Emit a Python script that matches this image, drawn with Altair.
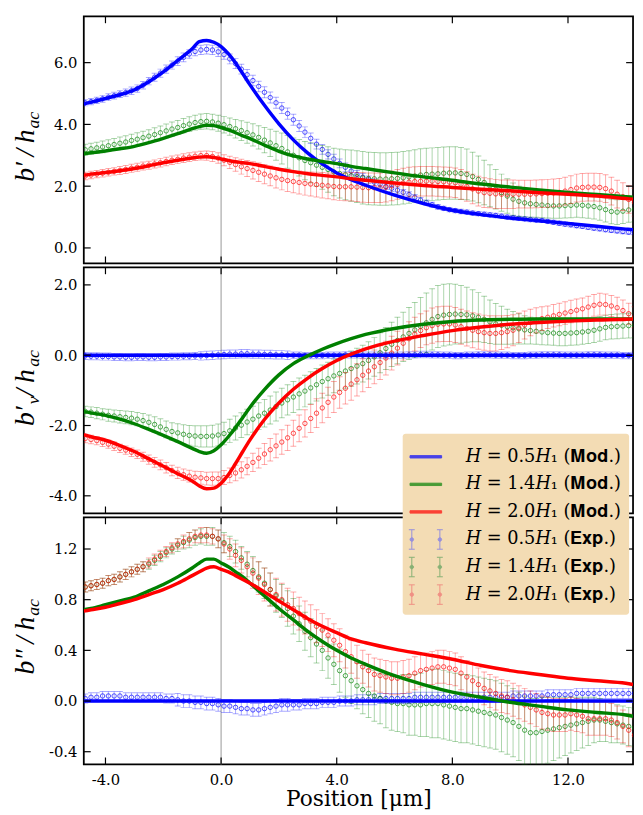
import altair as alt
import pandas as pd

# ---------------- data ----------------
X_EXP = [round(-4.7 + 0.2 * i, 1) for i in range(96)]
X_MOD = [-4.75, -4.5, -4.0, -3.5, -3.0, -2.5, -2.0, -1.5, -1.0, -0.75, -0.5, -0.25, 0.0,
         0.25, 0.5, 0.75, 1.0, 1.5, 2.0, 2.5, 3.0, 3.5, 4.0, 4.5, 5.0, 6.0, 7.0, 8.0,
         9.0, 10.0, 11.0, 12.0, 13.0, 14.0, 14.25]

# panel 1 : b'/h_ac
MOD1_B = [4.67, 4.72, 4.84, 4.96, 5.12, 5.38, 5.70, 6.07, 6.45, 6.68, 6.72, 6.66, 6.52,
          6.29, 5.99, 5.64, 5.28, 4.62, 4.02, 3.50, 3.07, 2.72, 2.43, 2.21, 2.03, 1.71,
          1.44, 1.22, 1.08, 0.97, 0.88, 0.79, 0.70, 0.61, 0.59]
MOD1_G = [3.05, 3.08, 3.14, 3.21, 3.29, 3.41, 3.55, 3.70, 3.86, 3.93, 3.97, 3.96, 3.90,
          3.82, 3.73, 3.63, 3.54, 3.33, 3.13, 2.98, 2.88, 2.80, 2.73, 2.64, 2.57, 2.43,
          2.30, 2.19, 2.07, 1.97, 1.88, 1.80, 1.73, 1.66, 1.64]
MOD1_R = [2.35, 2.39, 2.44, 2.50, 2.57, 2.66, 2.76, 2.84, 2.91, 2.94, 2.95, 2.93, 2.88,
          2.83, 2.79, 2.76, 2.73, 2.64, 2.55, 2.47, 2.40, 2.35, 2.30, 2.24, 2.19, 2.10,
          2.02, 1.96, 1.90, 1.85, 1.79, 1.74, 1.68, 1.60, 1.58]
EXP1_B = [4.70, 4.74, 4.78, 4.83, 4.88, 4.93, 4.98, 5.03, 5.09, 5.16,
          5.27, 5.40, 5.53, 5.66, 5.79, 5.92, 6.05, 6.17, 6.28, 6.36,
          6.41, 6.43, 6.41, 6.35, 6.26, 6.12, 5.97, 5.79, 5.61, 5.42,
          5.23, 5.04, 4.87, 4.70, 4.53, 4.35, 4.15, 3.95, 3.75, 3.55,
          3.36, 3.19, 3.03, 2.88, 2.74, 2.61, 2.49, 2.38, 2.29, 2.21,
          2.13, 2.06, 1.99, 1.93, 1.87, 1.80, 1.73, 1.64, 1.55, 1.47,
          1.40, 1.33, 1.28, 1.24, 1.21, 1.18, 1.16, 1.13, 1.11, 1.09,
          1.07, 1.05, 1.03, 1.00, 0.98, 0.96, 0.94, 0.92, 0.90, 0.89,
          0.86, 0.83, 0.80, 0.77, 0.75, 0.72, 0.70, 0.67, 0.64, 0.62,
          0.59, 0.57, 0.55, 0.53, 0.51, 0.50]
ERR1_B = [0.10, 0.10, 0.10, 0.11, 0.11, 0.11, 0.11, 0.12, 0.12, 0.12,
          0.12, 0.12, 0.13, 0.13, 0.13, 0.13, 0.14, 0.14, 0.14, 0.14,
          0.15, 0.15, 0.15, 0.15, 0.15, 0.16, 0.16, 0.16, 0.17, 0.17,
          0.17, 0.18, 0.18, 0.18, 0.18, 0.18, 0.18, 0.18, 0.17, 0.17,
          0.16, 0.16, 0.15, 0.15, 0.14, 0.14, 0.13, 0.13, 0.12, 0.12,
          0.11, 0.11, 0.10, 0.10, 0.10, 0.09, 0.09, 0.09, 0.08, 0.08,
          0.08, 0.08, 0.07, 0.07, 0.07, 0.07, 0.07, 0.07, 0.07, 0.07,
          0.07, 0.07, 0.07, 0.07, 0.07, 0.07, 0.07, 0.07, 0.07, 0.07,
          0.07, 0.07, 0.07, 0.07, 0.07, 0.07, 0.07, 0.07, 0.07, 0.07,
          0.07, 0.07, 0.07, 0.07, 0.07, 0.07]
EXP1_G = [3.18, 3.21, 3.24, 3.27, 3.31, 3.35, 3.39, 3.43, 3.48, 3.52,
          3.57, 3.62, 3.67, 3.73, 3.79, 3.85, 3.90, 3.96, 4.01, 4.06,
          4.09, 4.10, 4.08, 4.04, 3.99, 3.93, 3.86, 3.80, 3.73, 3.66,
          3.58, 3.49, 3.40, 3.31, 3.22, 3.11, 3.00, 2.92, 2.83, 2.76,
          2.68, 2.61, 2.54, 2.46, 2.41, 2.37, 2.34, 2.31, 2.27, 2.25,
          2.24, 2.23, 2.23, 2.24, 2.25, 2.27, 2.30, 2.33, 2.36, 2.38,
          2.39, 2.40, 2.42, 2.43, 2.43, 2.41, 2.38, 2.31, 2.22, 2.12,
          2.01, 1.90, 1.79, 1.68, 1.58, 1.51, 1.46, 1.43, 1.41, 1.39,
          1.37, 1.36, 1.36, 1.37, 1.38, 1.39, 1.38, 1.36, 1.34, 1.30,
          1.24, 1.18, 1.16, 1.19, 1.23, 1.26]
ERR1_G = [0.18, 0.18, 0.18, 0.19, 0.19, 0.19, 0.20, 0.20, 0.20, 0.21,
          0.21, 0.21, 0.22, 0.22, 0.22, 0.23, 0.23, 0.23, 0.24, 0.24,
          0.25, 0.25, 0.25, 0.26, 0.27, 0.28, 0.30, 0.32, 0.34, 0.36,
          0.38, 0.41, 0.44, 0.47, 0.50, 0.53, 0.56, 0.59, 0.62, 0.65,
          0.68, 0.71, 0.74, 0.77, 0.79, 0.81, 0.83, 0.84, 0.85, 0.85,
          0.85, 0.85, 0.85, 0.85, 0.85, 0.85, 0.85, 0.85, 0.85, 0.85,
          0.85, 0.85, 0.85, 0.85, 0.85, 0.84, 0.82, 0.79, 0.76, 0.72,
          0.68, 0.64, 0.60, 0.56, 0.52, 0.49, 0.46, 0.44, 0.42, 0.41,
          0.40, 0.40, 0.40, 0.40, 0.40, 0.40, 0.40, 0.40, 0.40, 0.40,
          0.40, 0.40, 0.40, 0.40, 0.40, 0.40]
EXP1_R = [2.33, 2.36, 2.39, 2.42, 2.45, 2.48, 2.51, 2.54, 2.58, 2.61,
          2.65, 2.68, 2.72, 2.76, 2.80, 2.84, 2.87, 2.91, 2.94, 2.97,
          2.99, 2.99, 2.96, 2.91, 2.84, 2.77, 2.70, 2.63, 2.57, 2.51,
          2.45, 2.39, 2.33, 2.27, 2.22, 2.18, 2.15, 2.12, 2.09, 2.07,
          2.05, 2.03, 2.01, 1.99, 1.98, 1.98, 1.98, 1.97, 1.96, 1.95,
          1.95, 1.95, 1.97, 2.01, 2.06, 2.10, 2.13, 2.15, 2.16, 2.16,
          2.16, 2.15, 2.14, 2.13, 2.11, 2.06, 1.99, 1.91, 1.84, 1.79,
          1.77, 1.75, 1.74, 1.74, 1.74, 1.74, 1.74, 1.74, 1.75, 1.76,
          1.77, 1.78, 1.80, 1.84, 1.89, 1.94, 1.96, 1.97, 1.97, 1.96,
          1.92, 1.84, 1.74, 1.66, 1.57, 1.48]
ERR1_R = [0.12, 0.12, 0.12, 0.12, 0.12, 0.12, 0.13, 0.13, 0.13, 0.13,
          0.13, 0.13, 0.13, 0.14, 0.14, 0.14, 0.14, 0.14, 0.14, 0.14,
          0.14, 0.15, 0.16, 0.17, 0.18, 0.20, 0.22, 0.24, 0.26, 0.28,
          0.30, 0.31, 0.32, 0.33, 0.34, 0.35, 0.36, 0.37, 0.38, 0.39,
          0.40, 0.41, 0.42, 0.43, 0.44, 0.45, 0.46, 0.47, 0.48, 0.48,
          0.48, 0.48, 0.48, 0.48, 0.48, 0.48, 0.48, 0.48, 0.48, 0.48,
          0.48, 0.48, 0.48, 0.48, 0.48, 0.48, 0.48, 0.48, 0.48, 0.48,
          0.47, 0.47, 0.46, 0.46, 0.46, 0.45, 0.45, 0.45, 0.45, 0.45,
          0.45, 0.45, 0.45, 0.45, 0.45, 0.45, 0.45, 0.45, 0.45, 0.45,
          0.45, 0.45, 0.45, 0.45, 0.45, 0.45]

# panel 2 : b'_v/h_ac
MOD2_B = [0.0, 0.0, 0.0, 0.0, 0.0, 0.0, 0.0, 0.0, 0.0, 0.0, 0.0, 0.0, 0.0, 0.0, 0.0,
          0.0, 0.0, 0.0, 0.0, 0.0, 0.0, 0.0, 0.0, 0.0, 0.0, 0.0, 0.0, 0.0, 0.0, 0.0,
          0.0, 0.0, 0.0, 0.0, 0.0]
MOD2_G = [-1.60, -1.64, -1.71, -1.82, -1.95, -2.11, -2.28, -2.46, -2.65, -2.74, -2.79,
          -2.72, -2.55, -2.32, -2.06, -1.77, -1.48, -0.98, -0.56, -0.24, -0.02, 0.17,
          0.33, 0.47, 0.59, 0.76, 0.88, 0.96, 1.00, 1.02, 1.03, 1.03, 1.03, 1.03, 1.03]
MOD2_R = [-2.26, -2.32, -2.42, -2.57, -2.74, -2.95, -3.16, -3.37, -3.58, -3.72, -3.80,
          -3.78, -3.64, -3.40, -3.08, -2.74, -2.41, -1.83, -1.36, -0.97, -0.65, -0.38,
          -0.15, 0.03, 0.18, 0.40, 0.56, 0.70, 0.80, 0.88, 0.93, 0.97, 1.00, 1.02, 1.03]
EXP2_B = [-0.02, -0.03, -0.03, -0.04, -0.04, -0.05, -0.05, -0.06, -0.06, -0.05,
          -0.05, -0.06, -0.06, -0.05, -0.05, -0.04, -0.04, -0.03, -0.03, -0.02,
          -0.02, -0.01, 0.00, 0.01, 0.02, 0.03, 0.03, 0.04, 0.04, 0.03,
          0.03, 0.02, 0.02, 0.01, 0.01, 0.00, 0.00, 0.00, -0.01, -0.01,
          -0.01, -0.01, 0.00, 0.00, 0.00, 0.01, 0.01, 0.01, 0.00, 0.00,
          0.00, 0.00, -0.01, -0.01, 0.00, 0.00, 0.01, 0.01, 0.02, 0.02,
          0.01, 0.01, 0.00, 0.00, -0.01, -0.01, 0.00, 0.00, 0.01, 0.01,
          0.01, 0.00, 0.00, 0.00, -0.01, -0.01, -0.01, 0.00, 0.00, 0.01,
          0.01, 0.01, 0.01, 0.00, 0.00, 0.00, 0.00, 0.01, 0.01, 0.01,
          0.00, 0.00, 0.00, -0.01, -0.01, 0.00]
ERR2_B = [0.10, 0.10, 0.10, 0.10, 0.10, 0.10, 0.10, 0.10, 0.10, 0.10,
          0.10, 0.10, 0.10, 0.10, 0.10, 0.10, 0.10, 0.10, 0.10, 0.10,
          0.12, 0.12, 0.12, 0.12, 0.12, 0.12, 0.12, 0.12, 0.12, 0.12,
          0.12, 0.12, 0.12, 0.12, 0.12, 0.12, 0.09, 0.09, 0.09, 0.09,
          0.09, 0.09, 0.09, 0.09, 0.09, 0.09, 0.09, 0.09, 0.09, 0.09,
          0.09, 0.09, 0.09, 0.09, 0.09, 0.09, 0.09, 0.09, 0.09, 0.09,
          0.09, 0.09, 0.09, 0.09, 0.09, 0.09, 0.09, 0.09, 0.09, 0.09,
          0.09, 0.09, 0.09, 0.09, 0.09, 0.09, 0.09, 0.09, 0.09, 0.09,
          0.09, 0.09, 0.09, 0.09, 0.09, 0.09, 0.09, 0.09, 0.09, 0.09,
          0.09, 0.09, 0.09, 0.09, 0.09, 0.09]
EXP2_G = [-1.60, -1.62, -1.65, -1.68, -1.71, -1.73, -1.75, -1.77, -1.79, -1.82,
          -1.86, -1.91, -1.97, -2.04, -2.11, -2.17, -2.21, -2.25, -2.28, -2.30,
          -2.31, -2.31, -2.30, -2.27, -2.23, -2.15, -2.07, -1.99, -1.90, -1.82,
          -1.73, -1.65, -1.56, -1.46, -1.36, -1.27, -1.19, -1.10, -1.02, -0.93,
          -0.84, -0.75, -0.67, -0.59, -0.52, -0.45, -0.38, -0.31, -0.24, -0.15,
          -0.05, 0.07, 0.19, 0.31, 0.42, 0.52, 0.62, 0.72, 0.82, 0.92,
          1.02, 1.10, 1.14, 1.16, 1.17, 1.16, 1.15, 1.12, 1.08, 1.02,
          0.95, 0.89, 0.85, 0.81, 0.78, 0.75, 0.72, 0.70, 0.68, 0.66,
          0.64, 0.63, 0.62, 0.62, 0.63, 0.64, 0.66, 0.68, 0.71, 0.75,
          0.79, 0.81, 0.82, 0.83, 0.84, 0.85]
ERR2_G = [0.15, 0.15, 0.16, 0.16, 0.17, 0.17, 0.18, 0.18, 0.19, 0.19,
          0.20, 0.21, 0.22, 0.23, 0.24, 0.25, 0.26, 0.27, 0.28, 0.29,
          0.30, 0.30, 0.31, 0.31, 0.32, 0.33, 0.34, 0.35, 0.36, 0.37,
          0.38, 0.39, 0.40, 0.41, 0.42, 0.43, 0.44, 0.45, 0.45, 0.46,
          0.46, 0.47, 0.47, 0.48, 0.48, 0.49, 0.50, 0.51, 0.52, 0.53,
          0.55, 0.57, 0.60, 0.63, 0.66, 0.70, 0.74, 0.78, 0.82, 0.85,
          0.87, 0.88, 0.88, 0.87, 0.85, 0.82, 0.78, 0.74, 0.70, 0.66,
          0.62, 0.58, 0.54, 0.50, 0.46, 0.43, 0.40, 0.38, 0.37, 0.36,
          0.35, 0.35, 0.35, 0.35, 0.35, 0.35, 0.35, 0.35, 0.35, 0.35,
          0.35, 0.35, 0.35, 0.35, 0.35, 0.35]
EXP2_R = [-2.37, -2.40, -2.43, -2.48, -2.53, -2.59, -2.65, -2.70, -2.76, -2.82,
          -2.89, -2.97, -3.05, -3.12, -3.20, -3.28, -3.35, -3.40, -3.44, -3.47,
          -3.49, -3.51, -3.51, -3.51, -3.48, -3.42, -3.35, -3.26, -3.16, -3.05,
          -2.93, -2.81, -2.69, -2.58, -2.47, -2.35, -2.22, -2.08, -1.94, -1.80,
          -1.65, -1.50, -1.34, -1.19, -1.06, -0.94, -0.82, -0.70, -0.57, -0.45,
          -0.33, -0.21, -0.08, 0.06, 0.20, 0.34, 0.47, 0.60, 0.70, 0.78,
          0.84, 0.88, 0.89, 0.89, 0.86, 0.81, 0.76, 0.71, 0.67, 0.64,
          0.62, 0.62, 0.64, 0.67, 0.71, 0.78, 0.86, 0.93, 0.99, 1.04,
          1.08, 1.12, 1.16, 1.20, 1.24, 1.28, 1.32, 1.37, 1.42, 1.45,
          1.44, 1.40, 1.35, 1.27, 1.18, 1.08]
ERR2_R = [0.12, 0.12, 0.12, 0.12, 0.12, 0.12, 0.12, 0.12, 0.12, 0.12,
          0.13, 0.13, 0.14, 0.14, 0.15, 0.15, 0.16, 0.16, 0.17, 0.17,
          0.18, 0.18, 0.19, 0.19, 0.20, 0.21, 0.22, 0.23, 0.24, 0.26,
          0.28, 0.30, 0.32, 0.34, 0.35, 0.36, 0.37, 0.38, 0.39, 0.40,
          0.41, 0.42, 0.43, 0.44, 0.45, 0.45, 0.46, 0.46, 0.47, 0.47,
          0.48, 0.48, 0.48, 0.48, 0.48, 0.48, 0.48, 0.48, 0.48, 0.48,
          0.50, 0.50, 0.50, 0.50, 0.50, 0.50, 0.50, 0.50, 0.50, 0.50,
          0.50, 0.50, 0.48, 0.46, 0.44, 0.42, 0.40, 0.38, 0.36, 0.34,
          0.32, 0.32, 0.32, 0.32, 0.32, 0.32, 0.31, 0.31, 0.31, 0.31,
          0.30, 0.30, 0.30, 0.30, 0.30, 0.30]

# panel 3 : b''/h_ac
MOD3_B = [0.0, 0.0, 0.0, 0.0, 0.0, 0.0, 0.0, 0.0, 0.0, 0.0, 0.0, 0.0, 0.0, 0.0, 0.0,
          0.0, 0.0, 0.0, 0.0, 0.0, 0.0, 0.0, 0.0, 0.0, 0.0, 0.0, 0.0, 0.0, 0.0, 0.0,
          0.0, 0.0, 0.0, 0.0, 0.0]
MOD3_G = [0.72, 0.73, 0.76, 0.79, 0.82, 0.87, 0.92, 0.98, 1.05, 1.09, 1.12, 1.12, 1.09,
          1.06, 1.02, 0.98, 0.93, 0.83, 0.73, 0.64, 0.55, 0.47, 0.40, 0.34, 0.29, 0.20,
          0.13, 0.07, 0.03, -0.01, -0.04, -0.07, -0.09, -0.11, -0.12]
MOD3_R = [0.71, 0.72, 0.74, 0.77, 0.80, 0.84, 0.88, 0.93, 0.99, 1.02, 1.05, 1.06, 1.04,
          1.02, 0.99, 0.96, 0.93, 0.86, 0.79, 0.72, 0.65, 0.59, 0.54, 0.49, 0.46, 0.41,
          0.37, 0.33, 0.28, 0.24, 0.21, 0.18, 0.16, 0.14, 0.13]
EXP3_B = [0.02, 0.03, 0.03, 0.04, 0.04, 0.04, 0.04, 0.03, 0.03, 0.03,
          0.03, 0.03, 0.03, 0.03, 0.02, 0.02, 0.01, 0.00, 0.00, -0.01,
          -0.01, -0.02, -0.02, -0.03, -0.04, -0.04, -0.05, -0.06, -0.06, -0.07,
          -0.07, -0.06, -0.05, -0.04, -0.03, -0.03, -0.03, -0.03, -0.02, -0.02,
          -0.02, -0.01, -0.01, -0.01, 0.00, 0.00, 0.00, 0.01, 0.01, 0.01,
          0.01, 0.02, 0.02, 0.02, 0.02, 0.02, 0.02, 0.03, 0.03, 0.03,
          0.03, 0.03, 0.03, 0.03, 0.03, 0.03, 0.03, 0.03, 0.03, 0.03,
          0.03, 0.03, 0.03, 0.03, 0.04, 0.04, 0.04, 0.04, 0.04, 0.04,
          0.05, 0.05, 0.05, 0.05, 0.05, 0.06, 0.06, 0.06, 0.06, 0.06,
          0.06, 0.06, 0.06, 0.06, 0.06, 0.06]
ERR3_B = [0.035, 0.035, 0.035, 0.035, 0.035, 0.035, 0.035, 0.035, 0.035, 0.035,
          0.035, 0.035, 0.035, 0.035, 0.035, 0.035, 0.05, 0.05, 0.05, 0.05,
          0.05, 0.05, 0.05, 0.05, 0.05, 0.05, 0.05, 0.05, 0.05, 0.05,
          0.05, 0.05, 0.05, 0.05, 0.05, 0.05, 0.04, 0.04, 0.04, 0.04,
          0.04, 0.04, 0.04, 0.04, 0.04, 0.04, 0.04, 0.04, 0.04, 0.04,
          0.04, 0.04, 0.04, 0.04, 0.04, 0.04, 0.04, 0.04, 0.04, 0.04,
          0.04, 0.04, 0.04, 0.04, 0.04, 0.04, 0.04, 0.04, 0.04, 0.04,
          0.04, 0.04, 0.04, 0.04, 0.04, 0.04, 0.04, 0.04, 0.04, 0.04,
          0.04, 0.04, 0.04, 0.04, 0.04, 0.04, 0.04, 0.04, 0.04, 0.04,
          0.04, 0.04, 0.04, 0.04, 0.04, 0.04]
EXP3_G = [0.90, 0.91, 0.92, 0.93, 0.95, 0.96, 0.98, 1.00, 1.02, 1.04,
          1.06, 1.08, 1.11, 1.14, 1.17, 1.20, 1.23, 1.25, 1.27, 1.29,
          1.30, 1.30, 1.30, 1.28, 1.25, 1.22, 1.18, 1.13, 1.08, 1.03,
          0.98, 0.93, 0.88, 0.83, 0.79, 0.73, 0.67, 0.61, 0.55, 0.50,
          0.45, 0.40, 0.34, 0.29, 0.24, 0.20, 0.16, 0.12, 0.09, 0.06,
          0.04, 0.02, 0.00, -0.01, -0.02, -0.02, -0.03, -0.03, -0.03, -0.02,
          -0.02, -0.02, -0.03, -0.04, -0.05, -0.06, -0.06, -0.07, -0.08, -0.09,
          -0.10, -0.11, -0.13, -0.15, -0.17, -0.20, -0.23, -0.25, -0.25, -0.24,
          -0.23, -0.22, -0.21, -0.20, -0.19, -0.18, -0.17, -0.16, -0.15, -0.15,
          -0.16, -0.17, -0.18, -0.19, -0.20, -0.21]
ERR3_G = [0.04, 0.04, 0.04, 0.04, 0.04, 0.04, 0.04, 0.04, 0.04, 0.04,
          0.04, 0.04, 0.04, 0.04, 0.04, 0.04, 0.05, 0.05, 0.06, 0.06,
          0.06, 0.07, 0.07, 0.07, 0.08, 0.08, 0.09, 0.09, 0.10, 0.11,
          0.12, 0.12, 0.13, 0.13, 0.13, 0.14, 0.14, 0.14, 0.15, 0.15,
          0.15, 0.16, 0.16, 0.16, 0.17, 0.17, 0.18, 0.18, 0.19, 0.19,
          0.20, 0.20, 0.21, 0.22, 0.22, 0.23, 0.24, 0.24, 0.25, 0.26,
          0.27, 0.27, 0.27, 0.27, 0.27, 0.27, 0.27, 0.27, 0.27, 0.27,
          0.27, 0.27, 0.27, 0.27, 0.27, 0.27, 0.27, 0.27, 0.27, 0.27,
          0.26, 0.25, 0.24, 0.23, 0.22, 0.21, 0.20, 0.19, 0.18, 0.17,
          0.16, 0.16, 0.15, 0.15, 0.15, 0.15]
EXP3_R = [0.90, 0.91, 0.92, 0.93, 0.95, 0.96, 0.98, 1.00, 1.02, 1.04,
          1.06, 1.09, 1.12, 1.15, 1.18, 1.21, 1.24, 1.26, 1.28, 1.30,
          1.31, 1.31, 1.30, 1.28, 1.24, 1.20, 1.15, 1.11, 1.06, 1.01,
          0.97, 0.92, 0.88, 0.84, 0.80, 0.76, 0.73, 0.69, 0.66, 0.63,
          0.59, 0.56, 0.52, 0.48, 0.44, 0.39, 0.35, 0.31, 0.27, 0.24,
          0.21, 0.20, 0.19, 0.18, 0.18, 0.19, 0.20, 0.22, 0.24, 0.25,
          0.26, 0.27, 0.27, 0.26, 0.25, 0.22, 0.19, 0.16, 0.13, 0.10,
          0.08, 0.06, 0.04, 0.03, 0.01, -0.01, -0.03, -0.05, -0.07, -0.09,
          -0.10, -0.11, -0.11, -0.11, -0.10, -0.11, -0.12, -0.14, -0.14, -0.14,
          -0.14, -0.15, -0.17, -0.20, -0.23, -0.27]
ERR3_R = [0.04, 0.04, 0.04, 0.04, 0.04, 0.04, 0.04, 0.04, 0.04, 0.04,
          0.04, 0.04, 0.04, 0.04, 0.04, 0.04, 0.04, 0.05, 0.05, 0.05,
          0.06, 0.06, 0.06, 0.07, 0.07, 0.08, 0.09, 0.10, 0.11, 0.12,
          0.13, 0.13, 0.13, 0.13, 0.13, 0.13, 0.13, 0.13, 0.13, 0.13,
          0.13, 0.13, 0.13, 0.13, 0.13, 0.13, 0.13, 0.13, 0.13, 0.13,
          0.13, 0.13, 0.13, 0.13, 0.13, 0.13, 0.13, 0.13, 0.13, 0.13,
          0.13, 0.13, 0.13, 0.13, 0.13, 0.13, 0.13, 0.13, 0.13, 0.13,
          0.13, 0.13, 0.13, 0.13, 0.13, 0.13, 0.13, 0.13, 0.13, 0.13,
          0.13, 0.13, 0.13, 0.13, 0.13, 0.13, 0.13, 0.13, 0.13, 0.13,
          0.13, 0.13, 0.13, 0.13, 0.13, 0.13]

X_TICKS = [-4, 0, 4, 8, 12]
Y_TICKS = [[0, 2, 4, 6], [-4, -2, 0, 2], [-0.4, 0.0, 0.4, 0.8, 1.2]]
Y_DOMAINS = [[-0.5, 7.5], [-4.5, 2.5], [-0.5, 1.45]]

LEG_LABELS = ["𝐻 = 0.5𝐻₁ (𝐌𝐨𝐝.)", "𝐻 = 1.4𝐻₁ (𝐌𝐨𝐝.)", "𝐻 = 2.0𝐻₁ (𝐌𝐨𝐝.)",
              "𝐻 = 0.5𝐻₁ (𝐄𝐱𝐩.)", "𝐻 = 1.4𝐻₁ (𝐄𝐱𝐩.)", "𝐻 = 2.0𝐻₁ (𝐄𝐱𝐩.)"]

# ---------------- style ----------------
COL = {"b": "#0000ff", "g": "#008000", "r": "#ff0000"}
LEG_COLORS = ["#0000ff", "#008000", "#ff0000", "#7070ee", "#5a9f5a", "#f07070"]
LINE_PATH = "M0,-0.7M0,0.7M-1.07,-0.08H1.07V0.08H-1.07Z"
ERR_PATH = ("M-1.15,-0.66H-0.75M-0.95,-0.66V0.66M-1.15,0.66H-0.75"
            "M0.75,-0.66H1.15M0.95,-0.66V0.66M0.75,0.66H1.15"
            "M-0.83,0A0.12,0.12,0,1,1,-1.07,0A0.12,0.12,0,1,1,-0.83,0"
            "M1.07,0A0.12,0.12,0,1,1,0.83,0A0.12,0.12,0,1,1,1.07,0")
LEG_SHAPES = [LINE_PATH, LINE_PATH, LINE_PATH, ERR_PATH, ERR_PATH, ERR_PATH]

XDOM = [-4.75, 14.25]
W = 558
TICK = 7
LAB = "(datum.value < 0 ? '-' : '') + format(abs(datum.value), '.1f')"
TS = "\u2009"


def xenc(axis=None):
    return alt.X("x:Q", scale=alt.Scale(domain=XDOM, nice=False, zero=False), axis=axis)


def yenc(field, dom, axis=None):
    return alt.Y(f"{field}:Q", scale=alt.Scale(domain=dom, nice=False, zero=False), axis=axis)


def panel(idx, exp, errs, mods, height, bottom, title_parts, legend=False):
    ydom = Y_DOMAINS[idx]
    layers = [alt.Chart(pd.DataFrame({"x": [0.0]})).mark_rule(
        color="#a8a8a8", strokeWidth=1.2).encode(x=xenc())]
    for k in ["b", "g", "r"]:
        df = pd.DataFrame({"x": X_EXP, "y": exp[k], "e": errs[k]})
        base = alt.Chart(df).transform_calculate(lo="datum.y - datum.e", hi="datum.y + datum.e")
        layers.append(base.mark_rule(color=COL[k], opacity=0.33, strokeWidth=1, clip=True).encode(
            x=xenc(), y=yenc("lo", ydom), y2="hi:Q"))
        layers.append(base.transform_fold(["lo", "hi"], as_=["k", "v"]).mark_tick(
            color=COL[k], opacity=0.33, orient="horizontal", size=6, thickness=1, clip=True).encode(
            x=xenc(), y=yenc("v", ydom)))
        layers.append(alt.Chart(df).mark_point(shape="circle", size=20, filled=False, color=COL[k],
                                               opacity=0.7, strokeWidth=1, clip=True).encode(
            x=xenc(), y=yenc("y", ydom)))
    for k in ["b", "g", "r"]:
        dfm = pd.DataFrame({"x": X_MOD, "y": mods[k]})
        layers.append(alt.Chart(dfm).mark_line(color=COL[k], strokeWidth=3.5, interpolate="monotone",
                                               clip=True).encode(x=xenc(), y=yenc("y", ydom)))
    # inward ticks on all four sides
    tx = pd.DataFrame({"x": X_TICKS})
    ty = pd.DataFrame({"y": Y_TICKS[idx]})
    layers.append(alt.Chart(tx).mark_rule(color="black", strokeWidth=1.2).encode(
        x=xenc(), y=alt.value(0), y2=alt.value(TICK)))
    layers.append(alt.Chart(tx).mark_rule(color="black", strokeWidth=1.2).encode(
        x=xenc(), y=alt.value(height), y2=alt.value(height - TICK)))
    layers.append(alt.Chart(ty).mark_rule(color="black", strokeWidth=1.2).encode(
        y=yenc("y", ydom), x=alt.value(0), x2=alt.value(TICK)))
    layers.append(alt.Chart(ty).mark_rule(color="black", strokeWidth=1.2).encode(
        y=yenc("y", ydom), x=alt.value(W), x2=alt.value(W - TICK)))
    for txt, xx, yy, align, size in title_parts:
        layers.append(alt.Chart(pd.DataFrame({"t": [txt]})).mark_text(
            angle=270, align=align, baseline="alphabetic", font="Liberation Serif",
            fontStyle="italic", fontSize=size, color="black").encode(
            x=alt.value(xx), y=alt.value(yy), text="t:N"))
    if legend:
        leg = alt.Legend(title=None, orient="none", legendX=324, legendY=424, fillColor="#f3dcb4",
                         padding=8, labelFont="DejaVu Serif", labelFontSize=18, labelColor="black",
                         labelLimit=500, labelOffset=25, symbolSize=900, symbolStrokeWidth=1,
                         rowPadding=0, cornerRadius=3)
        ldf = pd.DataFrame({"label": LEG_LABELS, "x": [-100.0] * 6, "y": [0.0] * 6})
        sc = alt.Scale(domain=LEG_LABELS, range=LEG_COLORS)
        layers.append(alt.Chart(ldf).mark_point(filled=True, clip=True).encode(
            x=xenc(), y=yenc("y", ydom),
            color=alt.Color("label:N", scale=sc, legend=leg, sort=LEG_LABELS),
            stroke=alt.Stroke("label:N", scale=sc, legend=leg, sort=LEG_LABELS),
            shape=alt.Shape("label:N", scale=alt.Scale(domain=LEG_LABELS, range=LEG_SHAPES),
                            legend=leg, sort=LEG_LABELS)))
    ad = pd.DataFrame({"x": [0.0], "y": [0.0]})
    ax_x = None
    if bottom:
        ax_x = alt.Axis(values=X_TICKS, labelExpr=LAB, ticks=False, domain=False, grid=False,
                        labelPadding=8, title="Position [μm]", titlePadding=2)
    ax_y = alt.Axis(values=Y_TICKS[idx], labelExpr=LAB, ticks=False, domain=False, grid=False,
                    labelPadding=7, title=None)
    layers.append(alt.Chart(ad).mark_point(opacity=0).encode(x=xenc(ax_x), y=yenc("y", ydom, ax_y)))
    return alt.layer(*layers).resolve_axis(x="independent", y="independent").properties(
        width=W, height=height)


p1 = panel(0, {"b": EXP1_B, "g": EXP1_G, "r": EXP1_R}, {"b": ERR1_B, "g": ERR1_G, "r": ERR1_R},
           {"b": MOD1_B, "g": MOD1_G, "r": MOD1_R}, 251, False,
           [("b′" + TS + "/" + TS + "h", -51, 115, "right", 28), ("ac", -45, 114, "left", 18)])
p2 = panel(1, {"b": EXP2_B, "g": EXP2_G, "r": EXP2_R}, {"b": ERR2_B, "g": ERR2_G, "r": ERR2_R},
           {"b": MOD2_B, "g": MOD2_G, "r": MOD2_R}, 250, False,
           [("b′", -51, 141, "right", 28), ("v", -45, 139, "left", 18),
            (TS + "/" + TS + "h", -51, 131, "left", 28), ("ac", -45, 101, "left", 18)])
p3 = panel(2, {"b": EXP3_B, "g": EXP3_G, "r": EXP3_R}, {"b": ERR3_B, "g": ERR3_G, "r": ERR3_R},
           {"b": MOD3_B, "g": MOD3_G, "r": MOD3_R}, 251, True,
           [("b″" + TS + "/" + TS + "h", -51, 101, "right", 28), ("ac", -45, 100, "left", 18)],
           legend=True)

chart = alt.vconcat(p1, p2, p3, spacing=0).properties(
    padding={"left": 3, "top": 0, "right": 0, "bottom": 0}, background="white"
).configure_view(stroke="black", strokeWidth=1.8).configure_axis(
    labelFont="DejaVu Serif", labelFontSize=15, labelColor="black",
    titleFont="DejaVu Serif", titleFontSize=22, titleFontWeight="normal", titleColor="black")

chart.save("out.html", embed_options={"renderer": "svg", "actions": False})
